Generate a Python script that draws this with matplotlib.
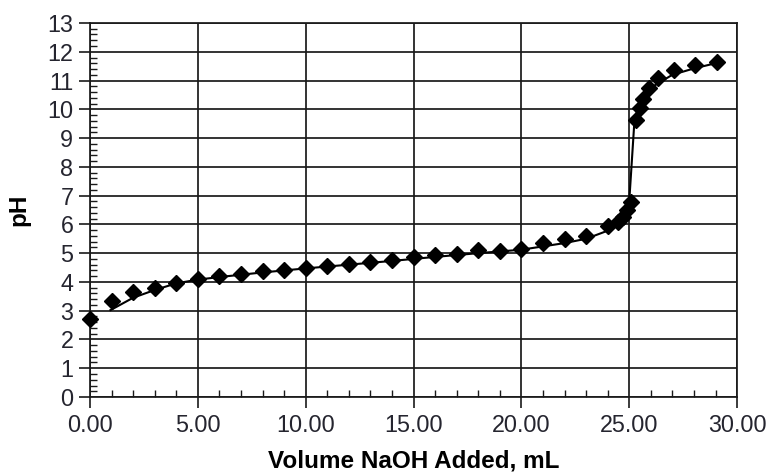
import numpy as np
import matplotlib.pyplot as plt
from matplotlib.ticker import MultipleLocator

# measured titration points (diamonds)
vol_pts = [0, 1, 2, 3, 4, 5, 6, 7, 8, 9, 10, 11, 12, 13, 14, 15, 16, 17, 18, 19, 20,
           21, 22, 23, 24, 24.5, 24.7, 24.9, 25.07, 25.3, 25.5, 25.65, 25.9, 26.35, 27.07, 28.05, 29.05]
ph_pts = [2.7, 3.35, 3.65, 3.8, 3.97, 4.1, 4.2, 4.28, 4.37, 4.43, 4.5, 4.55, 4.62, 4.7, 4.77, 4.85, 4.93, 4.97, 5.1, 5.08, 5.15,
          5.35, 5.5, 5.6, 5.95, 6.1, 6.25, 6.5, 6.77, 9.63, 10.03, 10.35, 10.75, 11.1, 11.37, 11.54, 11.65]

# smooth curve drawn through the data
vol_fit = [0.95, 2, 3, 4, 5, 6, 8, 10, 12, 14, 16, 18, 20, 22, 23, 24, 24.5, 25.0, 25.25, 25.5, 26, 27, 28, 29]
ph_fit = [3.02, 3.45, 3.72, 3.95, 4.08, 4.17, 4.33, 4.47, 4.6, 4.73, 4.87, 5.0, 5.12, 5.35, 5.5, 5.78, 6.05, 6.8, 9.7, 10.15, 10.75, 11.2, 11.42, 11.6]

plt.rcParams['font.family'] = ['Liberation Sans', 'DejaVu Sans']

fig = plt.figure(figsize=(7.67, 4.74), dpi=100)
ax = fig.add_axes([0.1173, 0.1624, 0.8437, 0.7891])

ax.plot(vol_fit, ph_fit, color='black', linewidth=1.5, zorder=3)
ax.plot(vol_pts, ph_pts, linestyle='none', marker='D', markersize=7.8,
        color='black', clip_on=False, zorder=4)

ax.set_xlim(0, 30)
ax.set_ylim(0, 13)
ax.xaxis.set_major_locator(MultipleLocator(5))
ax.xaxis.set_minor_locator(MultipleLocator(1))
ax.yaxis.set_major_locator(MultipleLocator(1))
ax.yaxis.set_minor_locator(MultipleLocator(0.2))
ax.set_xticks(np.arange(0, 31, 5))
ax.set_xticklabels(['%.2f' % v for v in np.arange(0, 31, 5)])

ax.grid(True, which='major', color='#1a1a1a', linewidth=1.25)
ax.set_axisbelow(True)
for s in ax.spines.values():
    s.set_color('#1a1a1a')
    s.set_linewidth(1.25)

ax.tick_params(which='major', direction='out', length=8, width=1.2, color='#1a1a1a',
               labelsize=16.8, labelcolor='#25252f', pad=4)
ax.tick_params(which='minor', direction='in', length=5, width=1.0, color='#1a1a1a')

ax.set_xlabel('Volume NaOH Added, mL', fontsize=17.5, fontweight='bold', labelpad=9)
ax.set_ylabel('pH', fontsize=17.5, fontweight='bold', labelpad=12)

fig.savefig('out.png', dpi=100)
